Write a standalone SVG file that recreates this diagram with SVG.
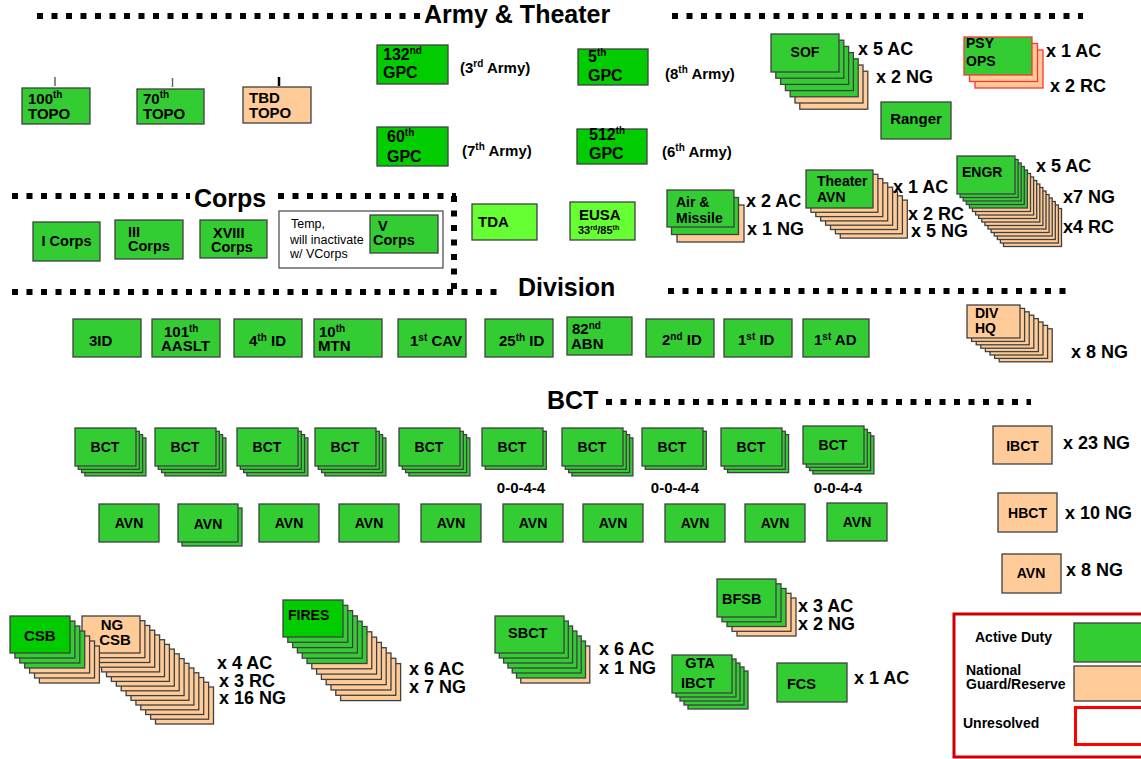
<svg xmlns="http://www.w3.org/2000/svg" width="1141" height="759" viewBox="0 0 1141 759">
<style>
text{font-family:"Liberation Sans",Arial,Helvetica,sans-serif;font-weight:bold;fill:#000}
.s11{font-size:11px}.s14{font-size:14px}.s145{font-size:14.5px}.s15{font-size:15px}.s16{font-size:16px}.s18{font-size:18px}.s25{font-size:25px}
.sup{font-size:10px}.sup7{font-size:7px}
.n{font-weight:normal;font-size:12.5px}
.m{text-anchor:middle}
.g{fill:#33CC33;stroke:#404040;stroke-width:1.3}
.gb{fill:#00CC00;stroke:#404040;stroke-width:1.3}
.lg{fill:#66FF33;stroke:#404040;stroke-width:1.3}
.p{fill:#FFCC99;stroke:#404040;stroke-width:1.3}
.pr{fill:#FFCC99;stroke:#FF3333;stroke-width:1.3}
.gr{fill:#33CC33;stroke:#FF3333;stroke-width:1.3}
.dot{fill:none;stroke:#000;stroke-width:6;stroke-dasharray:6 8.5}
</style>
<rect width="1141" height="759" fill="#fff"/>

<g id="separators">
<line class="dot" x1="37" y1="16" x2="420" y2="16"/>
<line class="dot" x1="672" y1="16" x2="1083" y2="16"/>
<line class="dot" x1="12" y1="196" x2="190" y2="196"/>
<line class="dot" x1="278" y1="196" x2="456" y2="196"/>
<line class="dot" x1="454" y1="196" x2="454" y2="292"/>
<line class="dot" x1="12" y1="292" x2="502" y2="292"/>
<line class="dot" x1="668" y1="291" x2="1070" y2="291"/>
<line class="dot" x1="606" y1="402" x2="1031" y2="402"/>
<text class="s25" x="424" y="23">Army &amp; Theater</text>
<text class="s25" x="194" y="207">Corps</text>
<text class="s25" x="518" y="296">Division</text>
<text class="s25" x="547" y="409">BCT</text>
</g>

<g id="connectors">
<line x1="55" y1="77" x2="55" y2="86" stroke="#666" stroke-width="1.5"/>
<line x1="172.5" y1="78" x2="172.5" y2="87" stroke="#666" stroke-width="1.5"/>
<line x1="279" y1="77" x2="279" y2="86" stroke="#000" stroke-width="2.5"/>
</g>

<g id="topo-100"><rect class="g" x="22" y="88" width="68" height="36"/><text class="s15" x="28" y="104">100<tspan class="sup" dy="-6">th</tspan></text><text class="s15" x="28" y="119">TOPO</text></g>
<g id="topo-70"><rect class="g" x="137" y="89" width="67" height="35"/><text class="s15" x="143" y="104">70<tspan class="sup" dy="-6">th</tspan></text><text class="s15" x="143" y="119">TOPO</text></g>
<g id="topo-tbd"><rect class="p" x="243" y="87" width="68" height="36"/><text class="s15" x="249" y="103">TBD</text><text class="s15" x="249" y="118">TOPO</text></g>

<g id="gpc-132"><rect class="gb" x="377" y="45" width="71" height="39"/><text class="s16" x="383" y="60">132<tspan class="sup" dy="-6">nd</tspan></text><text class="s16" x="383" y="78">GPC</text><text class="s15" x="460" y="73">(3<tspan class="sup" dy="-6">rd</tspan><tspan dy="6"> Army)</tspan></text></g>
<g id="gpc-5"><rect class="gb" x="578" y="49" width="70" height="36"/><text class="s16" x="588" y="62">5<tspan class="sup" dy="-6">th</tspan></text><text class="s16" x="588" y="81">GPC</text><text class="s15" x="665" y="79">(8<tspan class="sup" dy="-6">th</tspan><tspan dy="6"> Army)</tspan></text></g>
<g id="gpc-60"><rect class="gb" x="377" y="127" width="71" height="39"/><text class="s16" x="387" y="142">60<tspan class="sup" dy="-6">th</tspan></text><text class="s16" x="387" y="162">GPC</text><text class="s15" x="462" y="156">(7<tspan class="sup" dy="-6">th</tspan><tspan dy="6"> Army)</tspan></text></g>
<g id="gpc-512"><rect class="gb" x="577" y="129" width="70" height="35"/><text class="s16" x="589" y="140">512<tspan class="sup" dy="-6">th</tspan></text><text class="s16" x="589" y="159">GPC</text><text class="s15" x="662" y="157">(6<tspan class="sup" dy="-6">th</tspan><tspan dy="6"> Army)</tspan></text></g>

<g id="sof">
<rect class="p" x="799.8" y="71.2" width="68" height="38"/>
<rect class="p" x="795" y="65" width="68" height="38"/>
<rect class="g" x="790.2" y="58.8" width="68" height="38"/>
<rect class="g" x="785.4" y="52.6" width="68" height="38"/>
<rect class="g" x="780.6" y="46.4" width="68" height="38"/>
<rect class="g" x="775.8" y="40.2" width="68" height="38"/>
<rect class="g" x="771" y="34" width="68" height="38"/>
<text class="s14 m" x="805" y="57">SOF</text>
<text class="s18" x="858" y="55">x 5 AC</text>
<text class="s18" x="876" y="83">x 2 NG</text>
</g>

<g id="psyops">
<rect class="pr" x="975" y="50" width="68" height="38"/>
<rect class="pr" x="969.5" y="43.5" width="68" height="38"/>
<rect class="gr" x="964" y="37" width="68" height="38"/>
<text class="s14" x="966" y="48">PSY</text>
<text class="s14" x="966" y="66">OPS</text>
<text class="s18" x="1046" y="57">x 1 AC</text>
<text class="s18" x="1050" y="92">x 2 RC</text>
</g>

<g id="ranger"><rect class="g" x="881" y="102" width="70" height="37"/><text class="s15 m" x="916" y="124">Ranger</text></g>

<g id="theater-avn">
<rect class="p" x="840.3" y="200.1" width="67" height="38"/>
<rect class="p" x="835.4" y="195.8" width="67" height="38"/>
<rect class="p" x="830.5" y="191.5" width="67" height="38"/>
<rect class="p" x="825.6" y="187.2" width="67" height="38"/>
<rect class="p" x="820.7" y="182.9" width="67" height="38"/>
<rect class="p" x="815.8" y="178.6" width="67" height="38"/>
<rect class="p" x="810.9" y="174.3" width="67" height="38"/>
<rect class="g" x="806" y="170" width="67" height="38"/>
<text class="s14" x="817" y="186">Theater</text>
<text class="s14" x="817" y="202">AVN</text>
<text class="s18" x="893" y="193">x 1 AC</text>
<text class="s18" x="908" y="220">x 2 RC</text>
<text class="s18" x="911" y="237">x 5 NG</text>
</g>

<g id="engr">
<rect class="p" x="1003.5" y="208.5" width="58" height="38"/>
<rect class="p" x="1000.4" y="205" width="58" height="38"/>
<rect class="p" x="997.3" y="201.5" width="58" height="38"/>
<rect class="p" x="994.2" y="198" width="58" height="38"/>
<rect class="p" x="991.1" y="194.5" width="58" height="38"/>
<rect class="p" x="988" y="191" width="58" height="38"/>
<rect class="p" x="984.9" y="187.5" width="58" height="38"/>
<rect class="p" x="981.8" y="184" width="58" height="38"/>
<rect class="p" x="978.7" y="180.5" width="58" height="38"/>
<rect class="p" x="975.6" y="177" width="58" height="38"/>
<rect class="p" x="972.5" y="173.5" width="58" height="38"/>
<rect class="g" x="969.4" y="170" width="58" height="38"/>
<rect class="g" x="966.3" y="166.5" width="58" height="38"/>
<rect class="g" x="963.2" y="163" width="58" height="38"/>
<rect class="g" x="960.1" y="159.5" width="58" height="38"/>
<rect class="g" x="957" y="156" width="58" height="38"/>
<text class="s14" x="962" y="177">ENGR</text>
<text class="s18" x="1036" y="172">x 5 AC</text>
<text class="s18" x="1063" y="203">x7 NG</text>
<text class="s18" x="1063" y="233">x4 RC</text>
</g>

<g id="air-missile">
<rect class="p" x="677" y="205" width="67" height="37"/>
<rect class="g" x="671.5" y="197.5" width="67" height="37"/>
<rect class="g" x="667" y="190" width="67" height="37"/>
<text class="s14" x="676" y="207">Air &amp;</text>
<text class="s14" x="676" y="223">Missile</text>
<text class="s18" x="746" y="207">x 2 AC</text>
<text class="s18" x="747" y="235">x 1 NG</text>
</g>

<g id="tda"><rect class="lg" x="472" y="204" width="65" height="36"/><text class="s15" x="478" y="227">TDA</text></g>
<g id="eusa"><rect class="lg" x="570" y="202" width="65" height="38"/><text class="s15" x="579" y="220">EUSA</text><text class="s11" x="578" y="234">33<tspan class="sup7" dy="-4">rd</tspan><tspan dy="4">/85</tspan><tspan class="sup7" dy="-4">th</tspan></text></g>

<g id="i-corps"><rect class="g" x="33" y="222" width="67" height="39"/><text class="s145 m" x="66.5" y="246">I Corps</text></g>
<g id="iii-corps"><rect class="g" x="115" y="220" width="68" height="39"/><text class="s145" x="128" y="237">III</text><text class="s145" x="128" y="251">Corps</text></g>
<g id="xviii-corps"><rect class="g" x="200" y="220" width="67" height="38"/><text class="s145" x="213" y="238">XVIII</text><text class="s145" x="211" y="252">Corps</text></g>
<g id="v-corps">
<rect x="279" y="211" width="164" height="57" fill="#fff" stroke="#444" stroke-width="1.2"/>
<text class="n" x="291" y="228">Temp,</text>
<text class="n" x="290" y="244">will inactivate</text>
<text class="n" x="290" y="258">w/ VCorps</text>
<rect class="g" x="370" y="215" width="68" height="38"/>
<text class="s145" x="378" y="231">V</text><text class="s145" x="373" y="245">Corps</text>
</g>

<g id="div-3id"><rect class="g" x="73" y="319" width="68" height="38"/><text class="s15" x="89" y="346">3ID</text></g>
<g id="div-101"><rect class="g" x="152" y="319" width="68" height="38"/><text class="s15" x="164" y="337">101<tspan class="sup" dy="-5">th</tspan></text><text class="s15" x="161" y="351">AASLT</text></g>
<g id="div-4id"><rect class="g" x="234" y="319" width="68" height="38"/><text class="s15" x="249" y="346">4<tspan class="sup" dy="-5">th</tspan><tspan dy="5"> ID</tspan></text></g>
<g id="div-10mtn"><rect class="g" x="314" y="319" width="68" height="38"/><text class="s15" x="319" y="337">10<tspan class="sup" dy="-5">th</tspan></text><text class="s15" x="318" y="351">MTN</text></g>
<g id="div-1cav"><rect class="g" x="398" y="319" width="68" height="38"/><text class="s15" x="410" y="346">1<tspan class="sup" dy="-5">st</tspan><tspan dy="5"> CAV</tspan></text></g>
<g id="div-25id"><rect class="g" x="485" y="319" width="68" height="38"/><text class="s15" x="499" y="346">25<tspan class="sup" dy="-5">th</tspan><tspan dy="5"> ID</tspan></text></g>
<g id="div-82abn"><rect class="g" x="567" y="317" width="65" height="38"/><text class="s15" x="572" y="334">82<tspan class="sup" dy="-5">nd</tspan></text><text class="s15" x="571" y="349">ABN</text></g>
<g id="div-2id"><rect class="g" x="646" y="319" width="68" height="38"/><text class="s15" x="662" y="345">2<tspan class="sup" dy="-5">nd</tspan><tspan dy="5"> ID</tspan></text></g>
<g id="div-1id"><rect class="g" x="724" y="319" width="68" height="38"/><text class="s15" x="738" y="345">1<tspan class="sup" dy="-5">st</tspan><tspan dy="5"> ID</tspan></text></g>
<g id="div-1ad"><rect class="g" x="803" y="319" width="66" height="38"/><text class="s15" x="814" y="345">1<tspan class="sup" dy="-5">st</tspan><tspan dy="5"> AD</tspan></text></g>

<g id="div-hq">
<rect class="p" x="999.2" y="328.8" width="53" height="33"/>
<rect class="p" x="994.6" y="325.4" width="53" height="33"/>
<rect class="p" x="990" y="322" width="53" height="33"/>
<rect class="p" x="985.4" y="318.6" width="53" height="33"/>
<rect class="p" x="980.8" y="315.2" width="53" height="33"/>
<rect class="p" x="976.2" y="311.8" width="53" height="33"/>
<rect class="p" x="971.6" y="308.4" width="53" height="33"/>
<rect class="p" x="967" y="305" width="53" height="33"/>
<text class="s14" x="975" y="318">DIV</text>
<text class="s14" x="975" y="333">HQ</text>
<text class="s18" x="1071" y="358">x 8 NG</text>
</g>

<g id="bct-1">
<rect class="g" x="84.9" y="437.9" width="61" height="38"/><rect class="g" x="81.6" y="434.6" width="61" height="38"/><rect class="g" x="78.3" y="431.3" width="61" height="38"/><rect class="g" x="75" y="428" width="61" height="38"/>
<text class="s14 m" x="105" y="452">BCT</text></g>
<g id="bct-2">
<rect class="g" x="164.9" y="437.9" width="61" height="38"/><rect class="g" x="161.6" y="434.6" width="61" height="38"/><rect class="g" x="158.3" y="431.3" width="61" height="38"/><rect class="g" x="155" y="428" width="61" height="38"/>
<text class="s14 m" x="185" y="452">BCT</text></g>
<g id="bct-3">
<rect class="g" x="246.9" y="437.9" width="61" height="38"/><rect class="g" x="243.6" y="434.6" width="61" height="38"/><rect class="g" x="240.3" y="431.3" width="61" height="38"/><rect class="g" x="237" y="428" width="61" height="38"/>
<text class="s14 m" x="267" y="452">BCT</text></g>
<g id="bct-4">
<rect class="g" x="324.9" y="437.9" width="61" height="38"/><rect class="g" x="321.6" y="434.6" width="61" height="38"/><rect class="g" x="318.3" y="431.3" width="61" height="38"/><rect class="g" x="315" y="428" width="61" height="38"/>
<text class="s14 m" x="345" y="452">BCT</text></g>
<g id="bct-5">
<rect class="g" x="408.9" y="437.9" width="61" height="38"/><rect class="g" x="405.6" y="434.6" width="61" height="38"/><rect class="g" x="402.3" y="431.3" width="61" height="38"/><rect class="g" x="399" y="428" width="61" height="38"/>
<text class="s14 m" x="429" y="452">BCT</text></g>
<g id="bct-6">
<rect class="g" x="485.3" y="431.3" width="61" height="38"/><rect class="g" x="482" y="428" width="61" height="38"/>
<text class="s14 m" x="512" y="452">BCT</text>
<text class="s15 m" x="521" y="493">0-0-4-4</text></g>
<g id="bct-7">
<rect class="g" x="571.9" y="437.9" width="61" height="38"/><rect class="g" x="568.6" y="434.6" width="61" height="38"/><rect class="g" x="565.3" y="431.3" width="61" height="38"/><rect class="g" x="562" y="428" width="61" height="38"/>
<text class="s14 m" x="592" y="452">BCT</text></g>
<g id="bct-8">
<rect class="g" x="645.3" y="431.3" width="61" height="38"/><rect class="g" x="642" y="428" width="61" height="38"/>
<text class="s14 m" x="672" y="452">BCT</text>
<text class="s15 m" x="675" y="493">0-0-4-4</text></g>
<g id="bct-9">
<rect class="g" x="727.6" y="434.6" width="61" height="38"/><rect class="g" x="724.3" y="431.3" width="61" height="38"/><rect class="g" x="721" y="428" width="61" height="38"/>
<text class="s14 m" x="751" y="452">BCT</text></g>
<g id="bct-10">
<rect class="g" x="812.9" y="435.9" width="61" height="38"/><rect class="g" x="809.6" y="432.6" width="61" height="38"/><rect class="g" x="806.3" y="429.3" width="61" height="38"/><rect class="g" x="803" y="426" width="61" height="38"/>
<text class="s14 m" x="833" y="450">BCT</text>
<text class="s15 m" x="838" y="493">0-0-4-4</text></g>

<g id="avn-1"><rect class="g" x="99" y="504" width="60" height="38"/><text class="s14 m" x="129" y="528">AVN</text></g>
<g id="avn-2"><rect class="g" x="182" y="508" width="60" height="38"/><rect class="g" x="178" y="504" width="60" height="38"/><text class="s14 m" x="208" y="529">AVN</text></g>
<g id="avn-3"><rect class="g" x="259" y="504" width="60" height="38"/><text class="s14 m" x="289" y="528">AVN</text></g>
<g id="avn-4"><rect class="g" x="339" y="504" width="60" height="38"/><text class="s14 m" x="369" y="528">AVN</text></g>
<g id="avn-5"><rect class="g" x="421" y="504" width="60" height="38"/><text class="s14 m" x="451" y="528">AVN</text></g>
<g id="avn-6"><rect class="g" x="503" y="504" width="60" height="38"/><text class="s14 m" x="533" y="528">AVN</text></g>
<g id="avn-7"><rect class="g" x="583" y="504" width="60" height="38"/><text class="s14 m" x="613" y="528">AVN</text></g>
<g id="avn-8"><rect class="g" x="665" y="504" width="60" height="38"/><text class="s14 m" x="695" y="528">AVN</text></g>
<g id="avn-9"><rect class="g" x="745" y="504" width="60" height="38"/><text class="s14 m" x="775" y="528">AVN</text></g>
<g id="avn-10"><rect class="g" x="827" y="503" width="60" height="38"/><text class="s14 m" x="857" y="527">AVN</text></g>

<g id="ibct-ng"><rect class="p" x="993" y="426" width="59" height="38"/><text class="s14 m" x="1022.5" y="451">IBCT</text><text class="s18" x="1063" y="449">x 23 NG</text></g>
<g id="hbct-ng"><rect class="p" x="998" y="493" width="59" height="39"/><text class="s14 m" x="1027.5" y="518">HBCT</text><text class="s18" x="1065" y="519">x 10 NG</text></g>
<g id="avn-ng"><rect class="p" x="1002" y="554" width="59" height="39"/><text class="s14 m" x="1031" y="578">AVN</text><text class="s18" x="1066" y="576">x 8 NG</text></g>

<g id="ng-csb">
<rect class="p" x="155.5" y="687" width="58" height="37"/>
<rect class="p" x="150.6" y="682.2" width="58" height="37"/>
<rect class="p" x="145.7" y="677.5" width="58" height="37"/>
<rect class="p" x="140.8" y="672.8" width="58" height="37"/>
<rect class="p" x="135.9" y="668" width="58" height="37"/>
<rect class="p" x="131" y="663.3" width="58" height="37"/>
<rect class="p" x="126.1" y="658.6" width="58" height="37"/>
<rect class="p" x="121.2" y="653.8" width="58" height="37"/>
<rect class="p" x="116.3" y="649.1" width="58" height="37"/>
<rect class="p" x="111.4" y="644.4" width="58" height="37"/>
<rect class="p" x="106.5" y="639.7" width="58" height="37"/>
<rect class="p" x="101.6" y="634.9" width="58" height="37"/>
<rect class="p" x="96.7" y="630.2" width="58" height="37"/>
<rect class="p" x="91.8" y="625.5" width="58" height="37"/>
<rect class="p" x="86.9" y="620.7" width="58" height="37"/>
<rect class="p" x="82" y="616" width="58" height="37"/>
<text class="s15 m" x="112" y="630">NG</text>
<text class="s15 m" x="115" y="645">CSB</text>
</g>

<g id="csb">
<rect class="p" x="39.4" y="646" width="60" height="37"/>
<rect class="p" x="34.5" y="641" width="60" height="37"/>
<rect class="p" x="29.6" y="636" width="60" height="37"/>
<rect class="g" x="24.7" y="631" width="60" height="37"/>
<rect class="g" x="19.8" y="626" width="60" height="37"/>
<rect class="g" x="14.9" y="621" width="60" height="37"/>
<rect class="gb" x="10" y="616" width="60" height="37"/>
<text class="s15" x="24" y="641">CSB</text>
<text class="s18" x="217" y="669">x 4 AC</text>
<text class="s18" x="219" y="687">x 3 RC</text>
<text class="s18" x="219" y="704">x 16 NG</text>
</g>

<g id="fires">
<rect class="p" x="340.6" y="663.6" width="60" height="37"/>
<rect class="p" x="335.8" y="658.3" width="60" height="37"/>
<rect class="p" x="331" y="653" width="60" height="37"/>
<rect class="p" x="326.2" y="647.7" width="60" height="37"/>
<rect class="p" x="321.4" y="642.4" width="60" height="37"/>
<rect class="p" x="316.6" y="637.1" width="60" height="37"/>
<rect class="p" x="311.8" y="631.8" width="60" height="37"/>
<rect class="g" x="307" y="626.5" width="60" height="37"/>
<rect class="g" x="302.2" y="621.2" width="60" height="37"/>
<rect class="g" x="297.4" y="615.9" width="60" height="37"/>
<rect class="g" x="292.6" y="610.6" width="60" height="37"/>
<rect class="g" x="287.8" y="605.3" width="60" height="37"/>
<rect class="gb" x="283" y="600" width="60" height="37"/>
<text class="s14" x="288" y="620">FIRES</text>
<text class="s18" x="409" y="675">x 6 AC</text>
<text class="s18" x="409" y="693">x 7 NG</text>
</g>

<g id="sbct">
<rect class="p" x="520.8" y="646" width="69" height="37"/>
<rect class="g" x="516.5" y="641" width="69" height="37"/>
<rect class="g" x="512.2" y="636" width="69" height="37"/>
<rect class="g" x="507.9" y="631" width="69" height="37"/>
<rect class="g" x="503.6" y="626" width="69" height="37"/>
<rect class="g" x="499.3" y="621" width="69" height="37"/>
<rect class="g" x="495" y="616" width="69" height="37"/>
<text class="s145" x="508" y="638">SBCT</text>
<text class="s18" x="599" y="655">x 6 AC</text>
<text class="s18" x="599" y="674">x 1 NG</text>
</g>

<g id="bfsb">
<rect class="p" x="737" y="598" width="59" height="38"/>
<rect class="p" x="732" y="593.3" width="59" height="38"/>
<rect class="g" x="727" y="588.5" width="59" height="38"/>
<rect class="g" x="722" y="583.8" width="59" height="38"/>
<rect class="g" x="717" y="579" width="59" height="38"/>
<text class="s145" x="722" y="604">BFSB</text>
<text class="s18" x="798" y="612">x 3 AC</text>
<text class="s18" x="798" y="630">x 2 NG</text>
</g>

<g id="gta-ibct">
<rect class="g" x="688" y="671" width="60" height="38"/>
<rect class="g" x="684" y="667" width="60" height="38"/>
<rect class="g" x="680" y="663" width="60" height="38"/>
<rect class="g" x="676" y="659" width="60" height="38"/>
<rect class="g" x="672" y="655" width="60" height="38"/>
<text class="s145 m" x="700" y="668">GTA</text>
<text class="s145 m" x="698" y="688">IBCT</text>
</g>

<g id="fcs"><rect class="g" x="777" y="663" width="70" height="39"/><text class="s145" x="787" y="689">FCS</text><text class="s18" x="854" y="684">x 1 AC</text></g>

<g id="legend">
<rect x="954" y="614" width="200" height="143" fill="#fff" stroke="#CC0000" stroke-width="3"/>
<text class="s14" x="975" y="642">Active Duty</text>
<rect class="g" x="1074" y="623" width="80" height="39"/>
<text class="s14" x="966" y="675">National</text>
<text class="s14" x="966" y="689">Guard/Reserve</text>
<rect class="p" x="1074" y="666" width="80" height="35"/>
<text class="s14" x="963" y="728">Unresolved</text>
<rect x="1075.5" y="707.5" width="80" height="37" fill="#fff" stroke="#FF0000" stroke-width="3"/>
</g>
</svg>
